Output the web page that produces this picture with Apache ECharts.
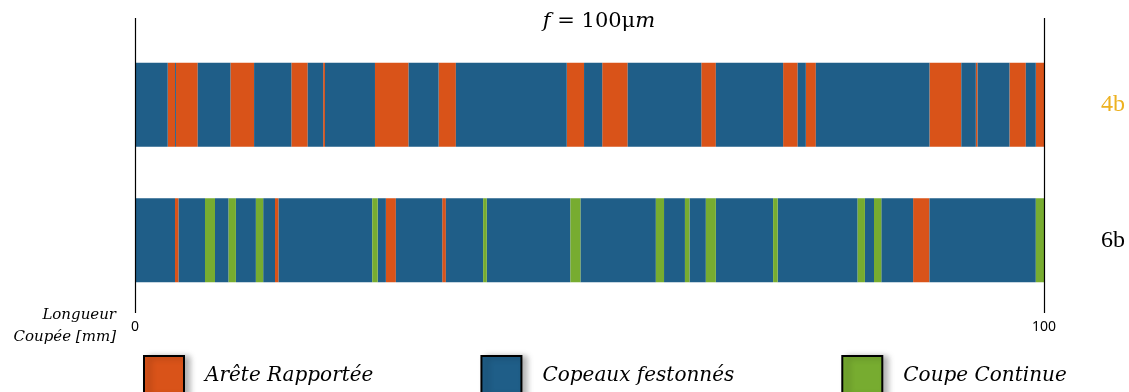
<!DOCTYPE html>
<html>
<head>
<meta charset="utf-8">
<script src="https://cdn.jsdelivr.net/npm/echarts@6/dist/echarts.min.js"></script>
<style>
  html, body { margin: 0; padding: 0; background: #fff; }
  #chart { width: 1129px; height: 392px; }
</style>
</head>
<body>
<div id="chart"></div>
<script>
// bars, bottom to top
const rows = ['6b', '4b'];
const typeNames = ['Arête Rapportée', 'Copeaux festonnés', 'Coupe Continue'];
const typeColors = ['#D95319', '#1F5E88', '#77AC30'];

// segment edges [mm] and the type of each segment (R = arête, F = festonnés, C = continue)
const edges4b = [0, 3.6, 4.4, 4.5, 6.9, 10.5, 13.1, 17.2, 19.0, 20.7, 20.9, 26.4, 30.1, 33.4, 35.3,
  47.5, 49.4, 51.4, 54.2, 62.3, 63.9, 71.3, 72.9, 73.8, 74.9, 87.4, 90.9, 92.5, 92.7, 96.2, 98.0, 99.1, 100];
const types4b = ['F', 'R', 'F', 'R', 'F', 'R', 'F', 'R', 'F', 'R', 'F', 'R', 'F', 'R', 'F', 'R',
  'F', 'R', 'F', 'R', 'F', 'R', 'F', 'R', 'F', 'R', 'F', 'R', 'F', 'R', 'F', 'R'];

const edges6b = [0, 4.4, 4.8, 7.7, 8.8, 10.3, 11.1, 13.3, 14.1, 15.4, 15.8, 26.1, 26.7, 27.6, 28.7,
  33.8, 34.2, 38.3, 38.7, 47.9, 49.0, 57.3, 58.2, 60.5, 61.0, 62.8, 63.9, 70.2, 70.7, 79.5, 80.3,
  81.3, 82.1, 85.6, 87.4, 99.1, 100];
const types6b = ['F', 'R', 'F', 'C', 'F', 'C', 'F', 'C', 'F', 'R', 'F', 'C', 'F', 'R', 'F', 'R',
  'F', 'C', 'F', 'C', 'F', 'C', 'F', 'C', 'F', 'C', 'F', 'C', 'F', 'C', 'F', 'C', 'F', 'R', 'F', 'C'];

const xTicks = [0, 100];

const codes = ['R', 'F', 'C'];

function segments(edges, types, row, code) {
  const out = [];
  for (let i = 0; i < types.length; i++) {
    if (types[i] === code) out.push([edges[i], edges[i + 1], row]);
  }
  return out;
}

function renderSeg(params, api) {
  const a = api.coord([api.value(0), api.value(2)]);
  const b = api.coord([api.value(1), api.value(2)]);
  const h = api.size([0, 1])[1] * 0.62;
  return {
    type: 'rect',
    shape: { x: a[0], y: a[1] - h / 2, width: b[0] - a[0], height: h },
    style: { fill: api.visual('color') }
  };
}

const chart = echarts.init(document.getElementById('chart'));

const series = codes.map((code, k) => ({
  name: typeNames[k],
  type: 'custom',
  xAxisIndex: 1,
  yAxisIndex: 1,
  renderItem: renderSeg,
  encode: { x: [0, 1], y: 2 },
  itemStyle: { color: typeColors[k] },
  data: segments(edges6b, types6b, 0, code).concat(segments(edges4b, types4b, 1, code))
}));

chart.setOption({
  animation: false,
  color: typeColors,
  title: {
    text: '{i|f} = 100μ{i|m}',
    left: 594,
    top: 6,
    textAlign: 'center',
    textStyle: {
      fontFamily: 'DejaVu Serif',
      fontSize: 21,
      fontWeight: 'normal',
      color: '#000',
      rich: { i: { fontFamily: 'DejaVu Serif', fontStyle: 'italic', fontSize: 21, color: '#000' } }
    }
  },
  legend: {
    data: typeNames,
    left: 143,
    top: 355,
    padding: 0,
    itemWidth: 40,
    itemHeight: 40,
    itemGap: 107,
    icon: 'rect',
    itemStyle: {
      borderColor: '#000',
      borderWidth: 2,
      shadowBlur: 6,
      shadowColor: 'rgba(0,0,0,0.3)',
      shadowOffsetX: 5,
      shadowOffsetY: 1
    },
    textStyle: {
      fontFamily: 'DejaVu Serif',
      fontStyle: 'italic',
      fontSize: 20,
      color: '#000',
      width: 182,
      padding: [0, 0, 0, 16]
    }
  },
  grid: [
    { left: 135, right: 85, top: 18, bottom: 79 },
    { left: 135, right: 85, top: 37, bottom: 84 }
  ],
  xAxis: [
    {
      gridIndex: 0,
      type: 'value',
      min: xTicks[0],
      max: xTicks[1],
      interval: xTicks[1] - xTicks[0],
      z: 10,
      axisLine: { show: false },
      axisTick: { show: false },
      splitLine: { show: true, lineStyle: { color: '#000', width: 1.2 } },
      axisLabel: { margin: 7, fontFamily: 'Noto Sans', fontSize: 14, color: '#000' },
      name: '{s| }\n{a|Longueur}\n{a|Coupée [mm]}',
      nameLocation: 'start',
      nameGap: 19,
      nameTextStyle: {
        color: '#000',
        align: 'right',
        verticalAlign: 'middle',
        rich: {
          s: { fontSize: 10, lineHeight: 26 },
          a: {
            fontFamily: 'DejaVu Serif',
            fontStyle: 'italic',
            fontSize: 15,
            lineHeight: 22,
            color: '#000',
            align: 'right'
          }
        }
      }
    },
    { gridIndex: 1, type: 'value', min: 0, max: 100, show: false }
  ],
  yAxis: [
    { gridIndex: 0, type: 'value', show: false },
    {
      gridIndex: 1,
      type: 'category',
      data: rows,
      position: 'right',
      axisLine: { show: false },
      axisTick: { show: false },
      splitLine: { show: false },
      axisLabel: {
        margin: 57,
        fontFamily: 'Liberation Serif',
        fontSize: 24,
        align: 'left',
        color: (v) => (v === '4b' ? '#EDB120' : '#000')
      }
    }
  ],
  series: series
});
</script>
</body>
</html>
